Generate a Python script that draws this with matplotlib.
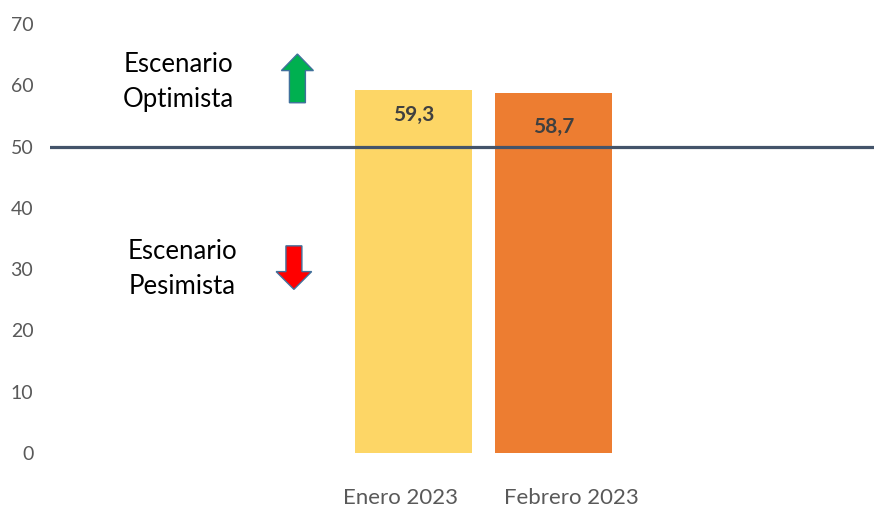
import matplotlib
matplotlib.use("Agg")
import matplotlib.pyplot as plt
from matplotlib.patches import FancyArrow

plt.rcParams['font.family'] = ['Lato', 'DejaVu Sans']

categories = ["Enero 2023", "Febrero 2023"]
values = [59.3, 58.7]
value_labels = ["59,3", "58,7"]
bar_colors = ["#FDD666", "#ED7D31"]
threshold = 50
yticks = [0, 10, 20, 30, 40, 50, 60, 70]

fig = plt.figure(figsize=(8.74, 5.07), dpi=100)
ax = fig.add_axes([50/874, 54/507, 824/874, 429/507])

x = list(range(len(categories)))
ax.bar(x, values, width=0.84, color=bar_colors, zorder=2)
ax.axhline(threshold, color="#44546A", linewidth=2.3, zorder=3)

for xi, v, lab, off in zip(x, values, value_labels, [4.2, 5.5]):
    ax.text(xi, v - off, lab, ha="center", va="center", fontsize=15,
            fontweight="bold", color="#404040", zorder=4)

ax.set_xlim(-2.596, 3.289)
ax.set_ylim(0, 70)
ax.set_yticks(yticks)
ax.set_yticklabels([str(t) for t in yticks], fontsize=14, color="#595959")
ax.set_xticks([-0.096, 1.125])
ax.set_xticklabels(categories, fontsize=16, color="#595959")
ax.tick_params(axis="y", length=0, pad=12)
ax.tick_params(axis="x", length=0, pad=25)
for s in ax.spines.values():
    s.set_visible(False)

ax.text(-1.68, 60.5, "Escenario\nOptimista", ha="center", va="center",
        fontsize=18.5, color="#000000", linespacing=1.5)
ax.text(-1.65, 30.0, "Escenario\nPesimista", ha="center", va="center",
        fontsize=18.5, color="#000000", linespacing=1.5)

up = FancyArrow(-0.829, 57.15, 0, 65.1 - 57.15, width=0.114, head_width=0.229,
                head_length=2.7, length_includes_head=True,
                facecolor="#00B050", edgecolor="#41719C", linewidth=1.0, zorder=5)
down = FancyArrow(-0.854, 33.8, 0, 26.7 - 33.8, width=0.114, head_width=0.254,
                  head_length=2.9, length_includes_head=True,
                  facecolor="#FF0000", edgecolor="#41719C", linewidth=1.0, zorder=5)
ax.add_patch(up)
ax.add_patch(down)

fig.savefig("out.png", dpi=100)
